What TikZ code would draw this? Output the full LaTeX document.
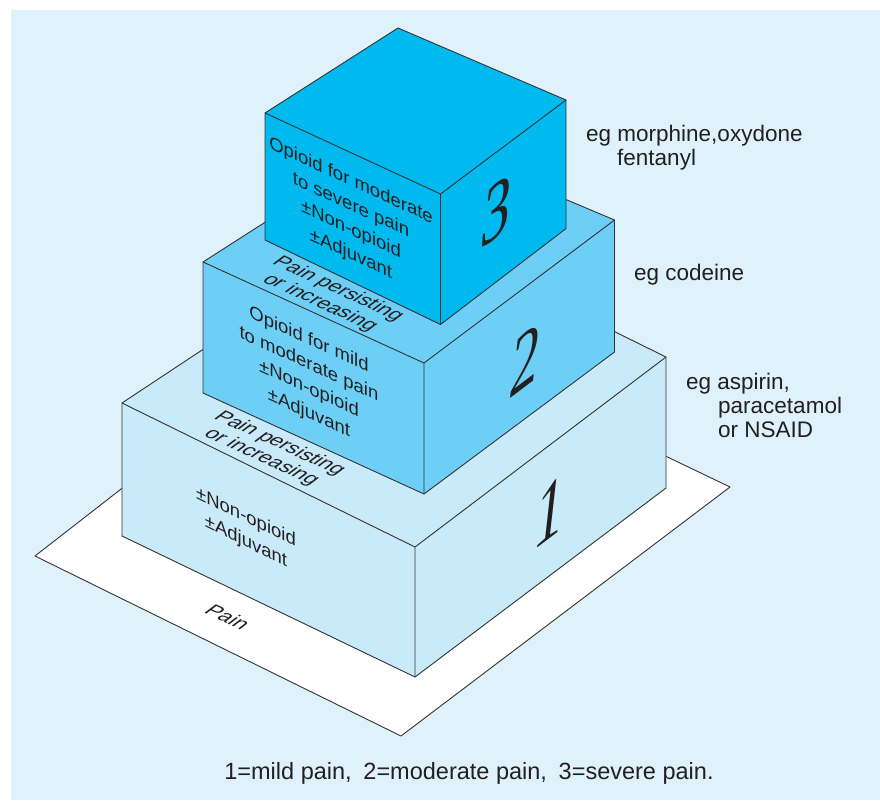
\documentclass[tikz,border=0pt]{standalone}
\usepackage{fontspec}
\setmainfont{Liberation Sans}
\newfontfamily\numfont{Liberation Serif}

\definecolor{paper}{HTML}{DFF2FB}
\definecolor{tierone}{HTML}{C8EAF9}
\definecolor{tiertwo}{HTML}{6DCFF6}
\definecolor{tierthree}{HTML}{00B9EF}
\definecolor{edgegray}{HTML}{333333}
\definecolor{ink}{HTML}{231F20}

\begin{document}
\begin{tikzpicture}[x=1pt, y=-1pt]

    % Define some common styles
    \tikzset{
        edge/.style={draw=edgegray, line width=0.9pt, line join=round},
        plate/.style={edge, fill=white},
        facetext/.style={text=ink, inner sep=0pt, align=center, font=\fontsize{18.5}{24.5}\selectfont},
        toptext/.style={facetext, font=\fontsize{19}{21}\selectfont, cm={1,-0.46,0.86,0.65,(0,0)}},
        sidetext/.style={text=ink, inner sep=0pt, align=left, font=\fontsize{22.5}{24}\selectfont},
        tiernum/.style={text=ink, inner sep=0pt, font=\fontsize{82}{82}\numfont\itshape, cm={0.7,0.53,0,1,(0,0)}}
    }

    % Page and background
    \useasboundingbox (0,0) rectangle (880,800);
    \fill[paper] (11,10) rectangle (880,800);

    % Base plate
    \coordinate (pl) at (35,556);
    \coordinate (pb) at (401,736);
    \coordinate (pr) at (730,487);
    \coordinate (pt) at (355,307);
    \filldraw[plate] (pl) -- (pb) -- (pr) -- (pt) -- cycle;
    \node[toptext] (pain) at (228,617) {Pain};

    % Step 1 (bottom box)
    \coordinate (a1) at (122,403);  \coordinate (a1b) at (122,536);
    \coordinate (b1) at (415,547);  \coordinate (b1b) at (415,677);
    \coordinate (c1) at (666,357);  \coordinate (c1b) at (666,488);
    \coordinate (d1) at (394,223);
    \filldraw[edge, fill=tierone] (a1b) -- (a1) -- (d1) -- (c1) -- (c1b) -- (b1b) -- cycle;
    \draw[edge] (a1) -- (b1) -- (c1) (b1) -- (b1b);

    % Step 2 (middle box)
    \coordinate (a2) at (203,262);  \coordinate (a2b) at (203,393);
    \coordinate (b2) at (424,363);  \coordinate (b2b) at (424,494);
    \coordinate (c2) at (614.5,220); \coordinate (c2b) at (614.5,352);
    \coordinate (d2) at (406,132);
    \filldraw[edge, fill=tiertwo] (a2b) -- (a2) -- (d2) -- (c2) -- (c2b) -- (b2b) -- cycle;
    \draw[edge] (a2) -- (b2) -- (c2) (b2) -- (b2b);

    % Step 3 (top box)
    \coordinate (a3) at (265,113);  \coordinate (a3b) at (265,240);
    \coordinate (b3) at (440.5,194); \coordinate (b3b) at (440.5,324.5);
    \coordinate (c3) at (566,100);  \coordinate (c3b) at (566,228.6);
    \coordinate (d3) at (398,28);
    \filldraw[edge, fill=tierthree] (a3b) -- (a3) -- (d3) -- (c3) -- (c3b) -- (b3b) -- cycle;
    \draw[edge] (a3) -- (b3) -- (c3) (b3) -- (b3b);

    % Texts on the front faces
    \node[facetext, yslant=-0.49] (stepone) at (246,530) {±Non-opioid\\±Adjuvant};
    \node[facetext, yslant=-0.458] (steptwo) at (309,377) {Opioid for mild\\to moderate pain\\±Non-opioid\\±Adjuvant};
    \node[facetext, yslant=-0.463] (stepthree) at (351,218) {Opioid for moderate\\to severe pain\\±Non-opioid\\±Adjuvant};

    % Texts on the top faces
    \node[toptext] (persistone) at (270.5,450.5) {Pain persisting\\or increasing};
    \node[toptext] (persisttwo) at (329,296) {Pain persisting\\or increasing};

    % Step numbers on the right faces
    \node[tiernum] (numone) at (550,512) {1};
    \node[tiernum] (numtwo) at (525,360) {2};
    \node[tiernum] (numthree) at (497,211) {3};

    % Examples of drugs
    \node[sidetext, anchor=west] (egthree) at (586,148) {eg morphine,oxydone\\\hspace*{31pt}fentanyl};
    \node[sidetext, anchor=west] (egtwo) at (634,275) {eg codeine};
    \node[sidetext, anchor=west] (egone) at (686,405) {eg aspirin,\\\hspace*{32pt}paracetamol\\\hspace*{32pt}or NSAID};

    % Key
    \node[sidetext, font=\fontsize{23.5}{24}\selectfont] (key) at (469,773) {1=mild pain,\enspace 2=moderate pain,\enspace 3=severe pain.};

\end{tikzpicture}
\end{document}
